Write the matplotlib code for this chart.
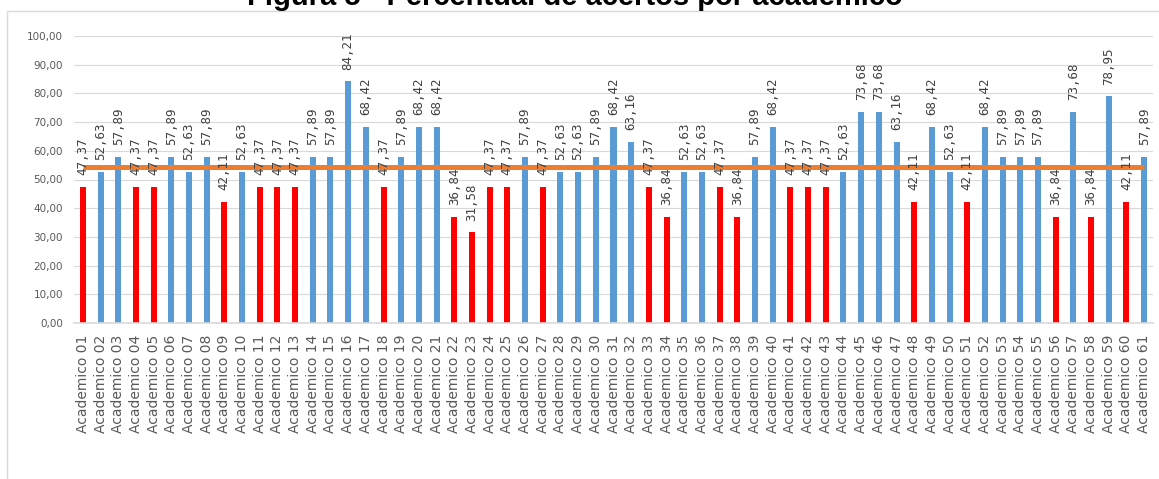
import numpy as np
import matplotlib
matplotlib.use('Agg')
import matplotlib.pyplot as plt
from matplotlib.patches import Rectangle

# dados
academicos = ['Academico %02d' % i for i in range(1, 62)]
valores = [47.37, 52.63, 57.89, 47.37, 47.37, 57.89, 52.63, 57.89, 42.11, 52.63,
           47.37, 47.37, 47.37, 57.89, 57.89, 84.21, 68.42, 47.37, 57.89, 68.42,
           68.42, 36.84, 31.58, 47.37, 47.37, 57.89, 47.37, 52.63, 52.63, 57.89,
           68.42, 63.16, 47.37, 36.84, 52.63, 52.63, 47.37, 36.84, 57.89, 68.42,
           47.37, 47.37, 47.37, 52.63, 73.68, 73.68, 63.16, 42.11, 68.42, 52.63,
           42.11, 68.42, 57.89, 57.89, 57.89, 36.84, 73.68, 36.84, 78.95, 42.11,
           57.89]
media = 54.27
limite = 50
titulo = 'Figura 5 - Percentual de acertos por acadêmico'

W, H = 1159, 479
fig = plt.figure(figsize=(W / 100, H / 100), dpi=100)
ax = fig.add_axes([74 / W, 1 - 323 / H, (1153 - 74) / W, (323 - 36) / H])

x = np.arange(1, len(valores) + 1)
cores = ['#FF0000' if v < limite else '#5B9BD5' for v in valores]

ax.bar(x, valores, width=0.34, color=cores, zorder=2)
ax.plot(x, [media] * len(x), color='#ED7D31', lw=3.6, solid_capstyle='butt', zorder=3)

for xi, v in zip(x, valores):
    ax.annotate(('%.2f' % v).replace('.', ','), xy=(xi, v), xytext=(0, 8.5),
                textcoords='offset points', rotation=90, ha='center', va='bottom',
                fontsize=9, family='DejaVu Sans Mono', color='#404040',
                annotation_clip=False, zorder=4)

ax.set_xlim(0.5, len(valores) + 0.5)
ax.set_ylim(0, 100)

yt = np.arange(0, 101, 10)
ax.set_yticks(yt)
ax.set_yticklabels([('%.2f' % t).replace('.', ',') for t in yt])
ax.set_xticks(x)
ax.set_xticklabels(academicos, rotation=90)
ax.tick_params(axis='y', length=0, pad=8, labelsize=7.5, labelcolor='#595959')
ax.tick_params(axis='x', length=0, pad=8.5, labelsize=10, labelcolor='#595959')

for s in ['top', 'right', 'left']:
    ax.spines[s].set_visible(False)
ax.spines['bottom'].set_color('#D9D9D9')
ax.spines['bottom'].set_linewidth(1.2)
ax.yaxis.grid(True, color='#D9D9D9', lw=0.8)
ax.set_axisbelow(True)

# moldura do grafico
fig.add_artist(Rectangle((7 / W, -0.5), 2, 0.5 + 1 - 11 / H, transform=fig.transFigure,
                         fill=False, ec='#D9D9D9', lw=1))

fig.text(575 / W, 1 - 5 / H, titulo, ha='center', va='baseline', fontsize=21,
         weight='bold', family='Liberation Sans', color='black')

fig.savefig('out.png', dpi=100)
